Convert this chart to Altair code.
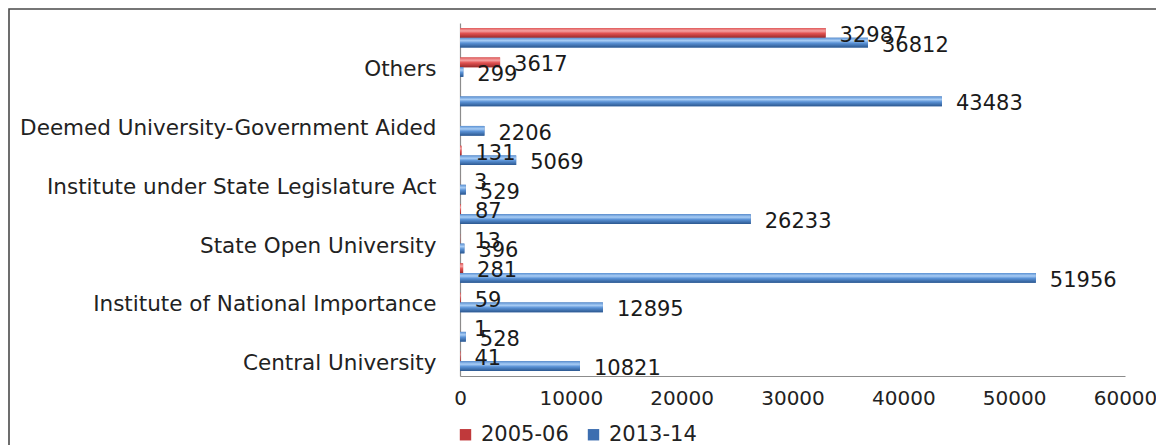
import json
import altair as alt
import pandas as pd

# ---- data (bottom to top) ----
categories = [
    "Central University",
    "Central Open University",
    "Institute of National Importance",
    "State Public University",
    "State Open University",
    "State Private University",
    "Institute under State Legislature Act",
    "Deemed University-Private",
    "Deemed University-Government Aided",
    "Deemed University-Government",
    "Others",
    "Colleges",
]
series_names = ["2005-06", "2013-14"]
values_2005 = [41, 1, 59, 281, 13, 87, 3, 131, None, None, 3617, 32987]
values_2013 = [10821, 528, 12895, 51956, 396, 26233, 529, 5069, 2206, 43483, 299, 36812]
x_ticks = [0, 10000, 20000, 30000, 40000, 50000, 60000]

rows = []
for c, a, b in zip(categories, values_2005, values_2013):
    if a is not None:
        rows.append({"category": c, "series": series_names[0], "value": a})
    rows.append({"category": c, "series": series_names[1], "value": b})
df = pd.DataFrame(rows)

shown = categories[::2]
label_expr = "indexof(" + json.dumps(shown) + ", datum.value) >= 0 ? datum.value : ''"

FONT = "DejaVu Sans"

y_enc = alt.Y(
    "category:N",
    sort=list(reversed(categories)),
    scale=alt.Scale(paddingInner=0.34, paddingOuter=0.17),
    axis=alt.Axis(
        title=None, ticks=False, labelExpr=label_expr, labelFont=FONT,
        labelFontSize=21.5, labelColor="#222222", labelPadding=24,
        labelOffset=3,
        domainColor="#8c8c8c", domainWidth=1.2, labelLimit=600,
    ),
)
yoff_enc = alt.YOffset("series:N", scale=alt.Scale(domain=series_names))
x_enc = alt.X(
    "value:Q",
    scale=alt.Scale(domain=[0, 60000], nice=False),
    axis=alt.Axis(
        title=None, values=x_ticks, ticks=False, grid=False, format="d",
        labelFont=FONT, labelFontSize=20, labelColor="#222222",
        labelPadding=12, domainColor="#8c8c8c", domainWidth=1.2,
        labelFlush=False,
    ),
)

base = alt.Chart(df)

legend_bars = base.mark_bar().encode(
    y=y_enc, yOffset=yoff_enc, x=x_enc,
    color=alt.Color(
        "series:N",
        scale=alt.Scale(domain=series_names, range=["#c0393b", "#3d6eb0"]),
        legend=alt.Legend(
            title=None, orient="none", direction="horizontal",
            legendX=-5, legendY=401, symbolType="square", symbolSize=130,
            labelFont=FONT, labelFontSize=21, labelColor="#222222",
            labelOffset=5, columnPadding=14, symbolStrokeWidth=0,
        ),
    ),
)

grad_red = alt.Gradient(
    gradient="linear", x1=0, y1=0, x2=0, y2=1,
    stops=[
        alt.GradientStop(offset=0, color="#e05a5a"),
        alt.GradientStop(offset=0.3, color="#f5a3a3"),
        alt.GradientStop(offset=0.55, color="#e25252"),
        alt.GradientStop(offset=1, color="#9a2a2a"),
    ],
)
grad_blue = alt.Gradient(
    gradient="linear", x1=0, y1=0, x2=0, y2=1,
    stops=[
        alt.GradientStop(offset=0, color="#5b91d3"),
        alt.GradientStop(offset=0.3, color="#a9cdf5"),
        alt.GradientStop(offset=0.55, color="#5a92d6"),
        alt.GradientStop(offset=1, color="#2c5890"),
    ],
)

red_bars = base.transform_filter(alt.datum.series == series_names[0]).mark_bar(
    color=grad_red
).encode(y=y_enc, yOffset=yoff_enc, x=x_enc)
blue_bars = base.transform_filter(alt.datum.series == series_names[1]).mark_bar(
    color=grad_blue
).encode(y=y_enc, yOffset=yoff_enc, x=x_enc)

labels = base.mark_text(
    align="left", baseline="middle", dx=14, dy=3, font=FONT, fontSize=21,
    color="#1a1a1a",
).encode(y=y_enc, yOffset=yoff_enc, x=x_enc, text=alt.Text("value:Q", format="d"))

frame = alt.Chart(pd.DataFrame({"k": [0]})).mark_rect(
    fill=None, stroke="#4a4a4a", strokeWidth=1.6
).encode(
    x=alt.value(-451), x2=alt.value(720), y=alt.value(-14), y2=alt.value(470)
)

chart = alt.layer(frame, legend_bars, red_bars, blue_bars, labels).properties(
    width=665, height=353,
    autosize=alt.AutoSizeParams(type="none"),
    padding={"left": 452, "top": 15, "right": 31, "bottom": 72},
    background="white",
).configure_view(stroke=None)

chart.save("out.html", embed_options={"renderer": "svg", "actions": False})
